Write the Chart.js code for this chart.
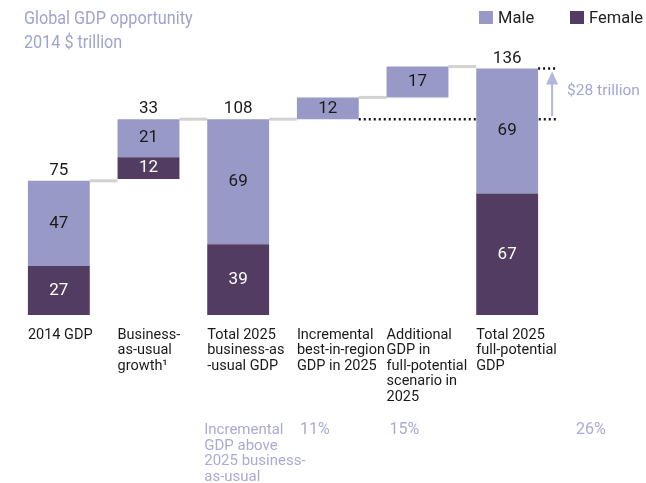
<!DOCTYPE html>
<html>
<head>
<meta charset="utf-8">
<script src="https://cdn.jsdelivr.net/npm/chart.js@4.4.1/dist/chart.umd.min.js"></script>
<style>
    body { margin: 0; background: #fff; }
    #wrap { position: relative; width: 646px; height: 483px; font-family: Roboto, 'DejaVu Sans', sans-serif; }
    #gdp-title { position: absolute; left: 24px; top: 6px; font-size: 18px; line-height: 24px; color: #a0a3cf; transform: scaleX(0.9); transform-origin: left top; white-space: nowrap; }
    .legend { position: absolute; top: 9px; font-size: 16.5px; line-height: 18px; color: #222; }
    .legend i { display: inline-block; width: 14px; height: 13px; margin-right: 5px; vertical-align: -1px; }
</style>
</head>
<body>
<div id="wrap">
    <canvas id="gdpChart"></canvas>
    <div id="gdp-title">Global GDP opportunity<br>2014 $ trillion</div>
    <div class="legend" style="left:479px"><i style="background:#9899c7"></i>Male</div>
    <div class="legend" style="left:570px"><i style="background:#523c61"></i>Female</div>
</div>
<script>
const categories = [
    ['2014 GDP'],
    ['Business-', 'as-usual', 'growth\u00b9'],
    ['Total 2025', 'business-as', '-usual GDP'],
    ['Incremental', 'best-in-region', 'GDP in 2025'],
    ['Additional', 'GDP in', 'full-potential', 'scenario in', '2025'],
    ['Total 2025', 'full-potential', 'GDP']
];
const baseValues = [0, 75, 0, 108, 120, 0];
const femaleValues = [27, 12, 39, 0, 0, 67];
const maleValues = [47, 21, 69, 12, 17, 69];
const totalLabels = ['75', '33', '108', '', '', '136'];
const noteLines = ['Incremental', 'GDP above', '2025 business-', 'as-usual'];
const shareLabels = ['11%', '15%', '26%'];
const gapLabel = '$28 trillion';

const MALE = '#9899c7';
const FEMALE = '#523c61';
const FONT = "Roboto, 'DejaVu Sans', sans-serif";

const femaleBars = femaleValues.map((v, i) => v ? [baseValues[i], baseValues[i] + v] : null);
const maleBars = maleValues.map((v, i) => [baseValues[i] + femaleValues[i], baseValues[i] + femaleValues[i] + v]);
const barEnds = maleBars.map((b) => b[1]);

const annotate = {
    id: 'annotate',
    beforeDatasetsDraw(chart) {
        const ctx = chart.ctx;
        const y = chart.scales.y;
        const bars = chart.getDatasetMeta(1).data;
        ctx.save();
        // grey connectors between bars
        ctx.strokeStyle = '#d2d2d2';
        ctx.lineWidth = 3;
        for (let i = 0; i < bars.length - 1; i++) {
            const py = y.getPixelForValue(barEnds[i]);
            ctx.beginPath();
            ctx.moveTo(bars[i].x + bars[i].width / 2, py);
            ctx.lineTo(bars[i + 1].x - bars[i + 1].width / 2, py);
            ctx.stroke();
        }
        // dotted reference lines
        const last = bars[bars.length - 1];
        const right = last.x + last.width / 2 + 20;
        ctx.strokeStyle = '#111';
        ctx.lineWidth = 2.5;
        ctx.setLineDash([2, 3]);
        let py = y.getPixelForValue(baseValues[3]);
        ctx.beginPath();
        ctx.moveTo(bars[3].x + bars[3].width / 2, py);
        ctx.lineTo(right, py);
        ctx.stroke();
        py = y.getPixelForValue(barEnds[5]);
        ctx.beginPath();
        ctx.moveTo(last.x + last.width / 2, py);
        ctx.lineTo(right, py);
        ctx.stroke();
        ctx.restore();
    },
    afterDatasetsDraw(chart) {
        const ctx = chart.ctx;
        const y = chart.scales.y;
        const fBars = chart.getDatasetMeta(0).data;
        const bars = chart.getDatasetMeta(1).data;
        ctx.save();
        ctx.textAlign = 'center';
        ctx.textBaseline = 'middle';
        ctx.font = '17px ' + FONT;
        bars.forEach((bar, i) => {
            ctx.fillStyle = '#1a1a1a';
            ctx.fillText(String(maleValues[i]), bar.x, (bar.y + bar.base) / 2);
            if (femaleValues[i]) {
                const fb = fBars[i];
                ctx.fillStyle = '#fff';
                ctx.fillText(String(femaleValues[i]), fb.x, (fb.y + fb.base) / 2);
            }
            if (totalLabels[i]) {
                ctx.fillStyle = '#1a1a1a';
                ctx.fillText(totalLabels[i], bar.x, bar.y - 10);
            }
        });

        // category labels under the bars
        const bottom = chart.chartArea.bottom;
        ctx.textAlign = 'left';
        ctx.font = '14.5px ' + FONT;
        ctx.fillStyle = '#1a1a1a';
        bars.forEach((bar, i) => {
            categories[i].forEach((line, k) => {
                ctx.fillText(line, bar.x - bar.width / 2, bottom + 20 + k * 15.6);
            });
        });

        // incremental GDP notes
        ctx.fillStyle = '#a9abd4';
        ctx.font = '15px ' + FONT;
        noteLines.forEach((line, k) => {
            ctx.fillText(line, bars[2].x - bars[2].width / 2 - 3, bottom + 115 + k * 15.8);
        });
        ctx.font = '16px ' + FONT;
        ctx.fillText(shareLabels[0], bars[3].x - bars[3].width / 2 + 3, bottom + 115);
        ctx.fillText(shareLabels[1], bars[4].x - bars[4].width / 2 + 3, bottom + 115);
        const last = bars[5];
        ctx.fillText(shareLabels[2], last.x + last.width / 2 + 38, bottom + 115);

        // arrow showing the gap
        const ax = last.x + last.width / 2 + 14;
        const yLow = y.getPixelForValue(baseValues[3]) - 3;
        const yHigh = y.getPixelForValue(barEnds[5]) + 3;
        ctx.strokeStyle = '#b3b5da';
        ctx.fillStyle = '#b3b5da';
        ctx.lineWidth = 2;
        ctx.beginPath();
        ctx.moveTo(ax, yLow);
        ctx.lineTo(ax, yHigh + 10);
        ctx.stroke();
        ctx.beginPath();
        ctx.moveTo(ax, yHigh);
        ctx.lineTo(ax - 6, yHigh + 13);
        ctx.lineTo(ax + 6, yHigh + 13);
        ctx.closePath();
        ctx.fill();
        ctx.fillStyle = '#a3a6d2';
        ctx.font = '15.5px ' + FONT;
        ctx.fillText(gapLabel, ax + 15, (yLow + yHigh) / 2 - 3);
        ctx.restore();
    }
};

new Chart(document.getElementById('gdpChart'), {
    type: 'bar',
    data: {
        labels: categories,
        datasets: [
            { label: 'Female', data: femaleBars, backgroundColor: FEMALE, grouped: false, borderSkipped: false },
            { label: 'Male', data: maleBars, backgroundColor: MALE, grouped: false, borderSkipped: false }
        ]
    },
    options: {
        responsive: true,
        maintainAspectRatio: false,
        animation: false,
        layout: { padding: { left: 14, right: 94, top: 43, bottom: 168 } },
        datasets: { bar: { categoryPercentage: 1, barPercentage: 0.69 } },
        plugins: { legend: { display: false }, tooltip: { enabled: false } },
        scales: {
            x: { display: false },
            y: { display: false, min: 0, max: 150 }
        }
    },
    plugins: [annotate]
});
</script>
</body>
</html>
